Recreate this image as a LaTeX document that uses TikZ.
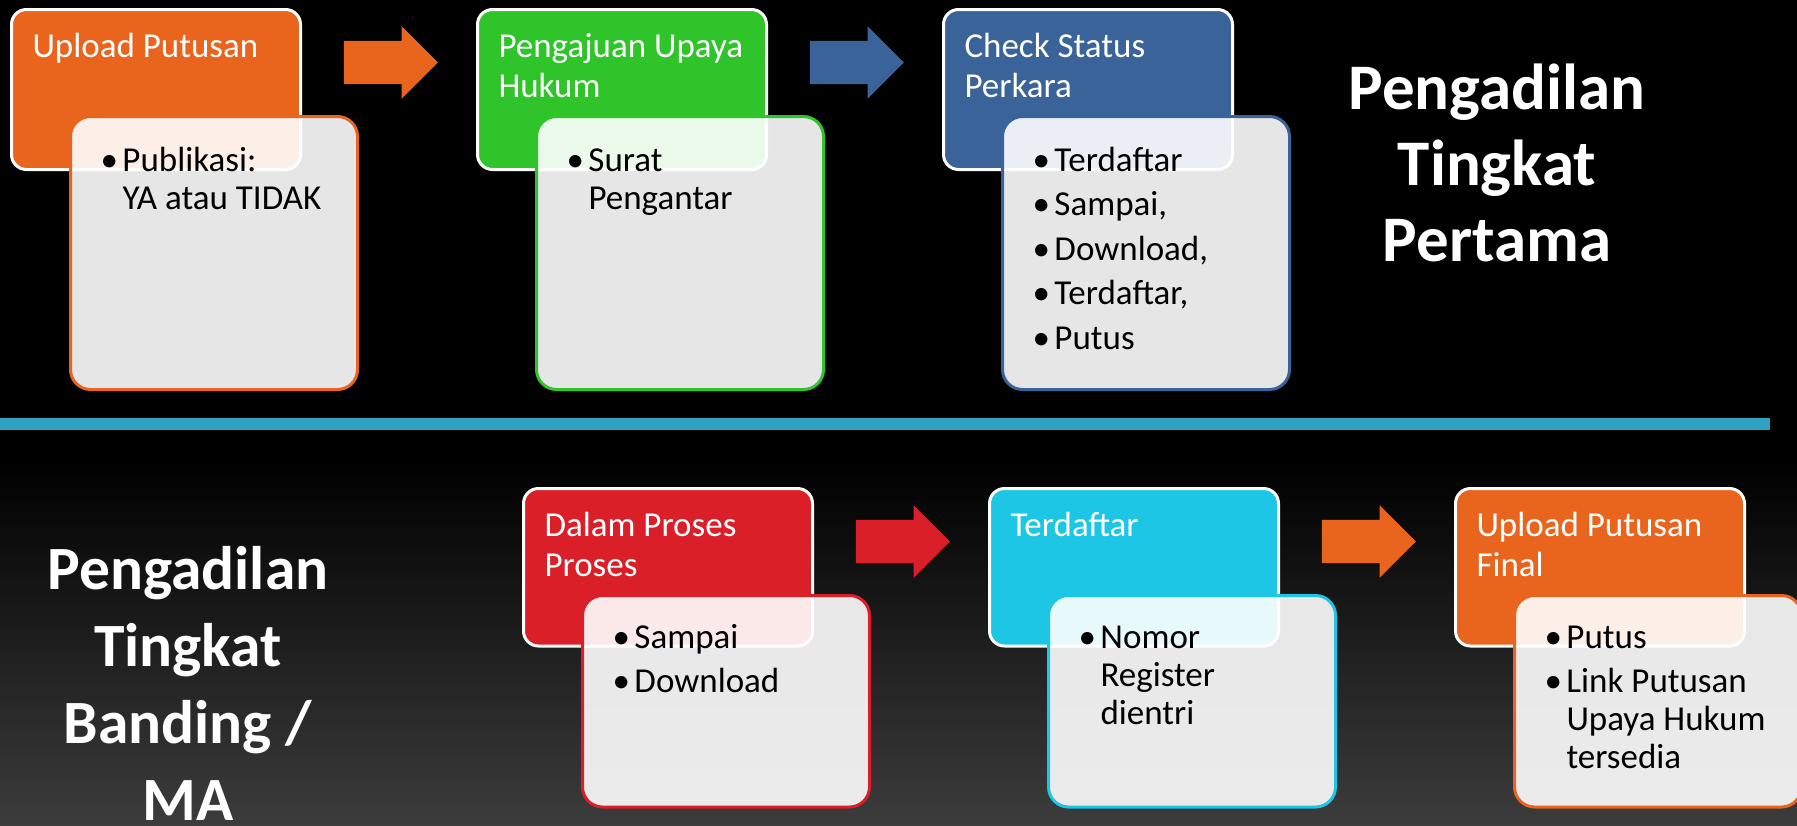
\documentclass[tikz,border=0pt]{standalone}
\usepackage{fontspec}
\setmainfont{Carlito}
\usepackage{xcolor}
\usetikzlibrary{shapes,arrows,positioning,calc}

\definecolor{pOrange}{RGB}{233,101,30}
\definecolor{pGreen}{RGB}{46,196,42}
\definecolor{pBlue}{RGB}{58,99,153}
\definecolor{pRed}{RGB}{218,31,41}
\definecolor{pCyan}{RGB}{28,198,228}
\definecolor{pTeal}{RGB}{44,163,192}
\definecolor{pGrey}{RGB}{60,60,60}

% one bullet paragraph inside a body box
\newcommand{\bul}[1]{\setlength{\parskip}{6.5pt}\hangindent=37pt\hangafter=1\hspace*{15pt}\makebox[22pt][l]{\textbullet}#1\par}

\begin{document}
\begin{tikzpicture}[x=1pt, y=-1pt,
        head/.style={rectangle, rounded corners=15pt, draw=white, line width=3pt, text=white,
            text width=247pt, inner xsep=21pt, inner ysep=0pt, align=flush left,
            font=\fontsize{35}{40}\selectfont, text height=47.5pt},
        headtall/.style={head, text depth=112.5pt},
        headshort/.style={head, text depth=110pt},
        body/.style={rectangle, rounded corners=20pt, line width=3pt, fill=white, fill opacity=0.9,
            text opacity=1, text=black, text width=257pt, inner xsep=15pt, inner ysep=0pt, align=flush left,
            font=\fontsize{35}{38}\selectfont, anchor=north west},
        bodytall/.style={body, text height=54.5pt, text depth=218.5pt},
        bodyshort/.style={body, text height=52.5pt, text depth=159pt},
        arr/.style={single arrow, draw=none, minimum height=94pt, minimum width=72pt,
            single arrow head extend=14.5pt, inner xsep=0pt, inner ysep=21.5pt},
        title/.style={text=white, text width=420pt, align=flush center, anchor=base, inner sep=0pt}]

        \useasboundingbox (0,0) rectangle (1797,825);
        \fill[black] (0,0) rectangle (1797,825);
        \shade[top color=black, bottom color=pGrey] (0,460) rectangle (1797,825);
        \fill[pTeal] (0,418) rectangle (1770,430); % separator

        % Pengadilan Tingkat Pertama
        \node [headtall, fill=pOrange, anchor=north west] (h1) at (10,8) {Upload Putusan};
        \node [headtall, fill=pGreen, right=174pt of h1] (h2) {Pengajuan Upaya\\Hukum};
        \node [headtall, fill=pBlue, right=174pt of h2] (h3) {Check Status\\Perkara};

        \node [bodytall, draw=pOrange] (b1) at ([shift={(59,107)}]h1.north west)
            {\bul{Publikasi:\newline YA atau TIDAK}};
        \node [bodytall, draw=pGreen] (b2) at ([shift={(59,107)}]h2.north west)
            {\bul{Surat\newline Pengantar}};
        \node [bodytall, draw=pBlue] (b3) at ([shift={(59,107)}]h3.north west)
            {\bul{Terdaftar}\bul{Sampai,}\bul{Download,}\bul{Terdaftar,}\bul{Putus}};

        \node [arr, fill=pOrange] (a1) at ($(h1.north east)!0.5!(h2.north west)+(-9,54.5)$) {};
        \node [arr, fill=pBlue] (a2) at ($(h2.north east)!0.5!(h3.north west)+(-9,54.5)$) {};

        \node [title, font=\fontsize{65}{76}\selectfont\bfseries] (ttop) at (1497,109)
            {Pengadilan\\Tingkat\\Pertama};

        % Pengadilan Tingkat Banding / MA
        \node [headshort, fill=pRed, anchor=north west] (h4) at (522,487) {Dalam Proses\\Proses};
        \node [headshort, fill=pCyan, right=174pt of h4] (h5) {Terdaftar};
        \node [headshort, fill=pOrange, right=174pt of h5] (h6) {Upload Putusan\\Final};

        \node [bodyshort, draw=pRed] (b4) at ([shift={(59,107)}]h4.north west)
            {\bul{Sampai}\bul{Download}};
        \node [bodyshort, draw=pCyan] (b5) at ([shift={(59,107)}]h5.north west)
            {\bul{Nomor\newline Register\newline dientri}};
        \node [bodyshort, draw=pOrange] (b6) at ([shift={(59,107)}]h6.north west)
            {\bul{Putus}\bul{Link Putusan\newline Upaya Hukum\newline tersedia}};

        \node [arr, fill=pRed] (a3) at ($(h4.north east)!0.5!(h5.north west)+(-9,54.5)$) {};
        \node [arr, fill=pOrange] (a4) at ($(h5.north east)!0.5!(h6.north west)+(-9,54.5)$) {};

        \node [title, font=\fontsize{61.5}{77}\selectfont\bfseries] (tbot) at (188,589)
            {Pengadilan\\Tingkat\\Banding /\\MA};
    \end{tikzpicture}
\end{document}
